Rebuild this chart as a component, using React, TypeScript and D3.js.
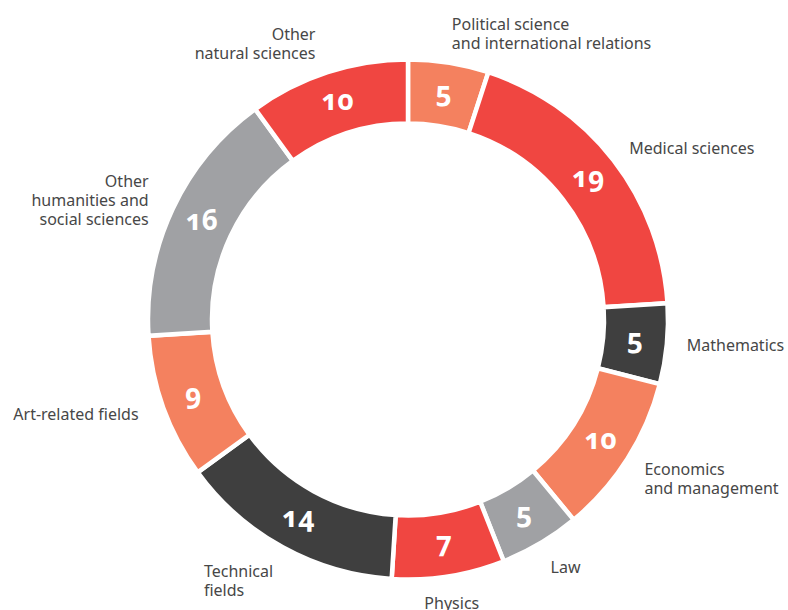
import React from "react";
import * as d3 from "d3";

const categories = [
  "Political science\nand international relations",
  "Medical sciences",
  "Mathematics",
  "Economics\nand management",
  "Law",
  "Physics",
  "Technical\nfields",
  "Art-related fields",
  "Other\nhumanities and\nsocial sciences",
  "Other\nnatural sciences",
];
const values = [5, 19, 5, 10, 5, 7, 14, 9, 16, 10];
const colors = [
  "#F4815F", "#F04641", "#3F3F3F", "#F4815F", "#A0A1A4",
  "#F04641", "#3F3F3F", "#F4815F", "#A0A1A4", "#F04641",
];

const W = 788, H = 610;
const cx = 408, cy = 319.5;
const outerR = 260, innerR = 196;
const labelR = 280;
const endPad = 6;
const lineH = 19;
const labelFont = '16px "Noto Sans"';

let ctx: CanvasRenderingContext2D | null = null;
function measure(t: string) {
  if (!ctx) ctx = document.createElement("canvas").getContext("2d");
  if (!ctx) return t.length * 8;
  ctx.font = labelFont;
  return ctx.measureText(t).width;
}

export default function App() {
  const pie = d3.pie<number>().sort(null).value((d) => d)(values);
  const arc = d3.arc<d3.PieArcDatum<number>>().innerRadius(innerR).outerRadius(outerR);
  const mid = d3.arc<d3.PieArcDatum<number>>().innerRadius((innerR + outerR) / 2).outerRadius((innerR + outerR) / 2);

  return (
    <svg width={W} height={H} style={{ position: "absolute", left: 0, top: 0 }}>
      <g transform={`translate(${cx},${cy})`}>
        {pie.map((p, i) => (
          <path key={i} d={arc(p) || ""} fill={colors[i]} stroke="#fff" strokeWidth={4.5} />
        ))}
        {pie.map((p, i) => {
          const [x, y] = mid.centroid(p);
          return (
            <text key={"v" + i} x={x} y={y} dy="0.27em" textAnchor="middle" fill="#fff"
              style={{ font: 'bold 28px "Noto Sans"', fontVariantNumeric: "oldstyle-nums" }}>
              {values[i]}
            </text>
          );
        })}
        {pie.map((p, i) => {
          const a = (p.startAngle + p.endAngle) / 2;
          const s = Math.sin(a), c = Math.cos(a);
          const px = labelR * s, py = -labelR * c;
          const lines = categories[i].split("\n");
          const n = lines.length;
          let top: number;
          if (c > 0.5) top = py - (n - 1) * lineH;
          else if (c < -0.5) top = py + (c < -0.7 ? 7 : 0);
          else top = py - ((n - 1) * lineH) / 2;
          let anchor: "start" | "middle" | "end" = "start";
          let x0 = px;
          if (Math.abs(s) < 0.2 && c < 0) anchor = "middle";
          else if (s < 0) {
            if (c < -0.5) {
              const w = Math.max(...lines.map(measure));
              x0 = px - w;
              anchor = "start";
            } else {
              anchor = "end";
              x0 = px - endPad;
            }
          }
          return (
            <text key={"l" + i} textAnchor={anchor} fill="#474747" style={{ font: labelFont }}>
              {lines.map((l, j) => (
                <tspan key={j} x={x0} y={top + j * lineH} dy="0.35em">{l}</tspan>
              ))}
            </text>
          );
        })}
      </g>
    </svg>
  );
}
